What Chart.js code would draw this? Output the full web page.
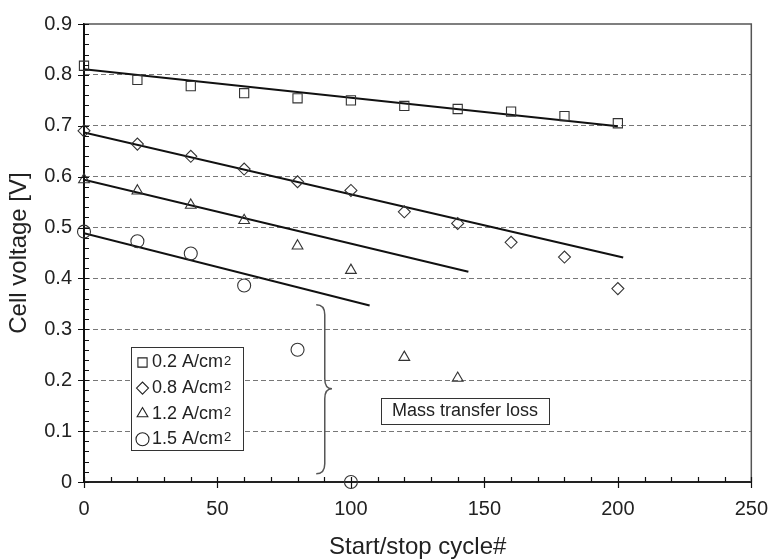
<!DOCTYPE html>
<html>
<head>
<meta charset="utf-8">
<script src="https://cdn.jsdelivr.net/npm/chart.js@4.4.1/dist/chart.umd.min.js"></script>
<style>
  html, body { margin: 0; padding: 0; background: #fff; }
</style>
</head>
<body>
<canvas id="VoltChart" width="783" height="559"></canvas>
<script>
// start/stop cycles at which the cell was measured
var cycles = [0, 20, 40, 60, 80, 100, 120, 140, 160, 180, 200];

// measured cell voltage per current density [V]
var volt02 = [0.818, 0.790, 0.778, 0.764, 0.754, 0.750, 0.739, 0.733, 0.728, 0.719, 0.705];
var volt08 = [0.690, 0.664, 0.640, 0.615, 0.590, 0.573, 0.531, 0.508, 0.471, 0.442, 0.380];
var volt12 = [0.594, 0.572, 0.544, 0.514, 0.464, 0.416, 0.245, 0.204];
var volt15 = [0.492, 0.473, 0.449, 0.386, 0.260, 0];

// linear trend lines (start and end of each)
var trendX02 = [0, 200],  trendY02 = [0.811, 0.699];
var trendX08 = [0, 202],  trendY08 = [0.687, 0.441];
var trendX12 = [0, 144],  trendY12 = [0.594, 0.413];
var trendX15 = [0, 107],  trendY15 = [0.489, 0.347];

var seriesLabels = ['0.2 A/cm', '0.8 A/cm', '1.2 A/cm', '1.5 A/cm'];
var cycleTicks = [0, 50, 100, 150, 200, 250];
var voltTicks = [0, 0.1, 0.2, 0.3, 0.4, 0.5, 0.6, 0.7, 0.8, 0.9];

var FONT = '"Liberation Sans", Arial, sans-serif';
var INK = '#222';

function toPoints(xs, ys) {
    return ys.map(function(v, i) { return { x: xs[i], y: v }; });
}

function markers(label, ys, style, r) {
    return {
        label: label,
        data: toPoints(cycles, ys),
        pointStyle: style,
        pointRadius: r,
        pointBorderWidth: 1.1,
        borderColor: '#333',
        backgroundColor: 'rgba(0,0,0,0)',
        showLine: false,
        clip: false
    };
}

function trend(xs, ys) {
    return {
        label: '',
        data: toPoints(xs, ys),
        showLine: true,
        pointRadius: 0,
        borderColor: '#111',
        borderWidth: 2,
        fill: false
    };
}

var markerDatasets = [
    markers(seriesLabels[0], volt02, 'rect', 6.5),
    markers(seriesLabels[1], volt08, 'rectRot', 6),
    markers(seriesLabels[2], volt12, 'triangle', 6.2),
    markers(seriesLabels[3], volt15, 'circle', 6.5)
];

// frame, axis ticks, legend box, brace and note
var decorations = {
    id: 'decorations',
    afterDraw: function(chart) {
        var ctx = chart.ctx;
        var a = chart.chartArea;
        var xs = chart.scales.x, ys = chart.scales.y;
        ctx.save();

        // top and right frame
        ctx.strokeStyle = '#555';
        ctx.lineWidth = 1.5;
        ctx.beginPath();
        ctx.moveTo(a.left, a.top);
        ctx.lineTo(a.right, a.top);
        ctx.lineTo(a.right, a.bottom);
        ctx.stroke();

        // tick marks: majors cross the axis, minors point inward
        ctx.strokeStyle = '#111';
        ctx.lineWidth = 1.2;
        ctx.beginPath();
        for (var c = 0; c <= 250; c += 10) {
            var px = Math.round(xs.getPixelForValue(c)) + 0.5;
            ctx.moveTo(px, a.bottom - 5);
            ctx.lineTo(px, a.bottom + (c % 50 === 0 ? 6 : 0));
        }
        for (var i = 0; i <= 45; i++) {
            var py = Math.round(ys.getPixelForValue(i * 0.02)) + 0.5;
            ctx.moveTo(a.left - (i % 5 === 0 ? 6 : 0), py);
            ctx.lineTo(a.left + 5, py);
        }
        ctx.stroke();

        // legend box
        var bx = a.left + 47, by = a.top + 323, bw = 112, bh = 103;
        ctx.fillStyle = '#fff';
        ctx.fillRect(bx, by, bw, bh);
        ctx.strokeStyle = '#333';
        ctx.lineWidth = 1;
        ctx.strokeRect(bx + 0.5, by + 0.5, bw, bh);
        markerDatasets.forEach(function(ds, k) {
            var ry = by + 15.5 + k * 25.6;
            ctx.strokeStyle = '#222';
            ctx.fillStyle = 'rgba(0,0,0,0)';
            ctx.lineWidth = 1.1;
            Chart.helpers.drawPoint(ctx, {
                pointStyle: ds.pointStyle, radius: ds.pointRadius, rotation: 0, borderWidth: 1.1
            }, bx + 11.5, ry);
            ctx.fillStyle = INK;
            ctx.font = '18px ' + FONT;
            ctx.textBaseline = 'middle';
            ctx.textAlign = 'left';
            ctx.fillText(ds.label, bx + 21, ry);
            var w = ctx.measureText(ds.label).width;
            ctx.font = '13px ' + FONT;
            ctx.textBaseline = 'alphabetic';
            ctx.fillText('2', bx + 22 + w, ry + 2);
        });

        // curly brace marking the mass transfer region
        var hx = xs.getPixelForValue(87), vx = xs.getPixelForValue(90.2), cx = xs.getPixelForValue(92.9);
        var top = ys.getPixelForValue(0.3485), mid = ys.getPixelForValue(0.183), bot = ys.getPixelForValue(0.016);
        ctx.strokeStyle = '#555';
        ctx.lineWidth = 1.5;
        ctx.beginPath();
        ctx.moveTo(hx, top);
        ctx.quadraticCurveTo(vx, top, vx, top + 10);
        ctx.lineTo(vx, mid - 10);
        ctx.quadraticCurveTo(vx, mid, cx, mid);
        ctx.quadraticCurveTo(vx, mid, vx, mid + 10);
        ctx.lineTo(vx, bot - 10);
        ctx.quadraticCurveTo(vx, bot, hx, bot);
        ctx.stroke();

        // note box
        var nx = a.left + 297, ny = a.top + 374, nw = 168, nh = 26;
        ctx.fillStyle = '#fff';
        ctx.fillRect(nx, ny, nw, nh);
        ctx.strokeStyle = '#333';
        ctx.lineWidth = 1;
        ctx.strokeRect(nx + 0.5, ny + 0.5, nw, nh);
        ctx.fillStyle = INK;
        ctx.font = '18px ' + FONT;
        ctx.textBaseline = 'middle';
        ctx.textAlign = 'left';
        ctx.fillText('Mass transfer loss', nx + 11, ny + 13);

        ctx.restore();
    }
};

var ctx = document.getElementById('VoltChart').getContext('2d');
var voltChart = new Chart(ctx, {
    type: 'scatter',
    data: {
        datasets: markerDatasets.concat([
            trend(trendX02, trendY02),
            trend(trendX08, trendY08),
            trend(trendX12, trendY12),
            trend(trendX15, trendY15)
        ])
    },
    options: {
        responsive: false,
        animation: false,
        layout: { padding: { left: 0, right: 19, top: 20, bottom: 0 }, autoPadding: false },
        plugins: {
            legend: { display: false },
            tooltip: { enabled: false }
        },
        scales: {
            x: {
                type: 'linear',
                min: 0,
                max: 250,
                afterBuildTicks: function(scale) {
                    scale.ticks = cycleTicks.map(function(v) { return { value: v }; });
                },
                afterFit: function(scale) { scale.height = 77; },
                grid: { display: false, drawTicks: false },
                border: { display: true, color: '#222', width: 2 },
                ticks: {
                    padding: 15,
                    color: INK,
                    font: { family: FONT, size: 20 },
                    maxRotation: 0
                },
                title: {
                    display: true,
                    text: 'Start/stop cycle#',
                    color: INK,
                    font: { family: FONT, size: 24, lineHeight: 1 },
                    padding: { top: 0, bottom: 0 }
                }
            },
            y: {
                type: 'linear',
                min: 0,
                max: 0.9,
                afterBuildTicks: function(scale) {
                    scale.ticks = voltTicks.map(function(v) { return { value: v }; });
                },
                afterFit: function(scale) { scale.width = 84; },
                grid: {
                    drawTicks: false,
                    lineWidth: 1,
                    color: function(c) {
                        var v = c.tick ? c.tick.value : 0;
                        return (v > 0.001 && v < 0.89) ? '#777' : 'rgba(0,0,0,0)';
                    }
                },
                border: { display: true, color: '#111', width: 2, dash: [5, 3] },
                ticks: {
                    padding: 12,
                    color: INK,
                    font: { family: FONT, size: 20 },
                    callback: function(v) { return v === 0 ? '0' : v.toFixed(1); }
                },
                title: {
                    display: true,
                    text: 'Cell voltage [V]',
                    color: INK,
                    font: { family: FONT, size: 24 },
                    padding: { top: 5, bottom: 0 }
                }
            }
        }
    },
    plugins: [decorations]
});
</script>
</body>
</html>
